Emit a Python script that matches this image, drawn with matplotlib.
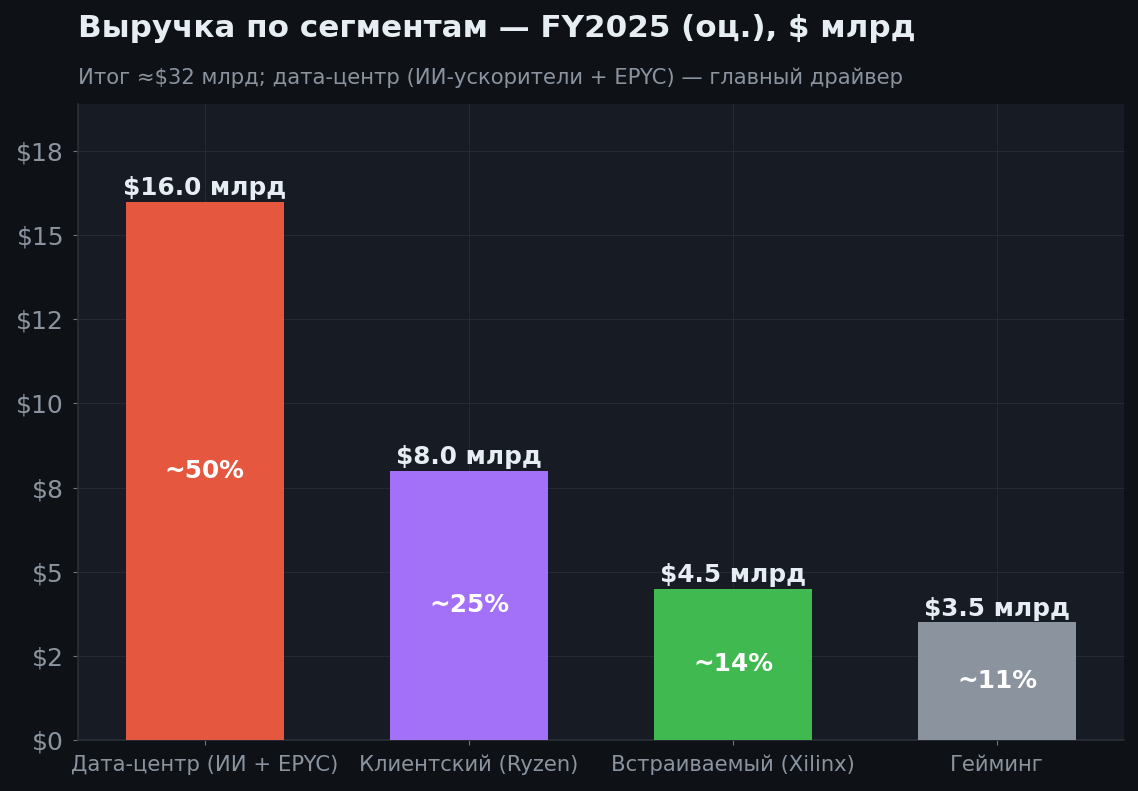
import matplotlib
matplotlib.use('Agg')
import matplotlib.pyplot as plt
import matplotlib.ticker as mtick

plt.rcParams['font.family'] = ['DejaVu Sans']

# Segment revenue, FY2025 estimate ($ bn)
segments = ['Дата-центр (ИИ + EPYC)', 'Клиентский (Ryzen)', 'Встраиваемый (Xilinx)', 'Гейминг']
revenue = [16.0, 8.0, 4.5, 3.5]
shares = ['~50%', '~25%', '~14%', '~11%']
bar_colors = ['#e5573e', '#a371f7', '#3fb950', '#8b949e']

fig_bg = '#0e1217'
ax_bg = '#171b23'
text_main = '#e6edf3'
text_muted = '#8b949e'

fig = plt.figure(figsize=(11.38, 7.91), dpi=100)
fig.patch.set_facecolor(fig_bg)
ax = fig.add_axes([0.0685, 0.0645, 0.9192, 0.804])
ax.set_facecolor(ax_bg)

x = range(len(segments))
bars = ax.bar(x, revenue, width=0.6, color=bar_colors, zorder=3)

for rect, val, share in zip(bars, revenue, shares):
    cx = rect.get_x() + rect.get_width() / 2
    ax.annotate(f'${val:.1f} млрд', (cx, rect.get_height()), xytext=(0, 1),
                textcoords='offset points', ha='center', va='bottom',
                fontsize=17.8, fontweight='bold', color=text_main, zorder=4)
    ax.text(cx, rect.get_height() / 2, share, ha='center', va='center',
            fontsize=17.8, fontweight='bold', color='white', zorder=4)

ax.set_ylim(0, 18.9)
ax.set_xticks(list(x))
ax.set_xticklabels(segments)
ax.yaxis.set_major_locator(mtick.MultipleLocator(2.5))
ax.yaxis.set_major_formatter(mtick.StrMethodFormatter('${x:.0f}'))

ax.tick_params(axis='x', colors='#6e7681', labelcolor=text_muted, labelsize=15.2, length=3.5, pad=7)
ax.tick_params(axis='y', colors='#6e7681', labelcolor=text_muted, labelsize=18, length=3.5, pad=6.5)

for spine in ('top', 'right'):
    ax.spines[spine].set_visible(False)
for spine in ('left', 'bottom'):
    ax.spines[spine].set_color('#2a2f38')
    ax.spines[spine].set_linewidth(1.2)

ax.grid(True, color='#242933', linewidth=0.8, zorder=0)
ax.set_axisbelow(True)

fig.text(0.0685, 0.964, 'Выручка по сегментам — FY2025 (оц.), $ млрд',
         ha='left', va='center', fontsize=22.3, fontweight='bold', color=text_main)
fig.text(0.0685, 0.902, 'Итог ≈$32 млрд; дата-центр (ИИ-ускорители + EPYC) — главный драйвер',
         ha='left', va='center', fontsize=15.2, color=text_muted)

fig.savefig('out.png', dpi=100, facecolor=fig_bg)
plt.close(fig)
